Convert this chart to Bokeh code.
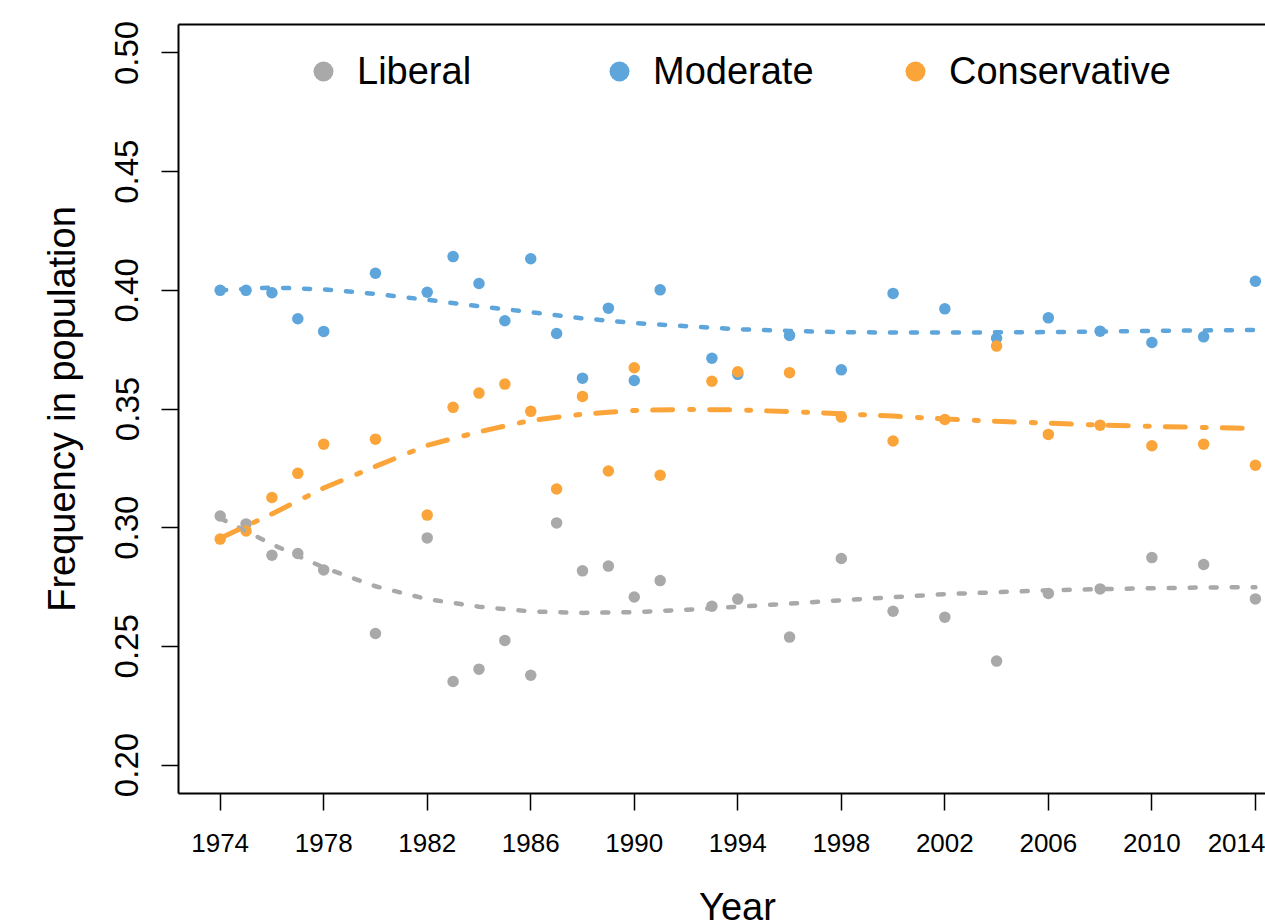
from bokeh.plotting import figure
from bokeh.models import (Range1d, FixedTicker, Legend, LegendItem, CustomJSTickFormatter,
                          LinearAxis, Label)
from bokeh.embed import file_html
from bokeh.resources import INLINE

years = [1974, 1975, 1976, 1977, 1978, 1980, 1982, 1983, 1984, 1985, 1986, 1987,
         1988, 1989, 1990, 1991, 1993, 1994, 1996, 1998, 2000, 2002, 2004, 2006,
         2008, 2010, 2012, 2014]

liberal = [0.3049, 0.3016, 0.2884, 0.2891, 0.2822, 0.2554, 0.2957, 0.2352, 0.2404,
           0.2525, 0.2378, 0.3020, 0.2818, 0.2838, 0.2708, 0.2777, 0.2669, 0.2699,
           0.2539, 0.2870, 0.2648, 0.2623, 0.2438, 0.2723, 0.2742, 0.2874, 0.2845,
           0.2700]

moderate = [0.4000, 0.4000, 0.3990, 0.3880, 0.3827, 0.4072, 0.3992, 0.4142, 0.4029,
            0.3872, 0.4133, 0.3818, 0.3630, 0.3925, 0.3620, 0.4002, 0.3714, 0.3646,
            0.3810, 0.3665, 0.3987, 0.3922, 0.3798, 0.3884, 0.3828, 0.3780, 0.3804,
            0.4038]

conservative = [0.2952, 0.2986, 0.3127, 0.3229, 0.3352, 0.3373, 0.3053, 0.3507, 0.3567,
                0.3605, 0.3490, 0.3163, 0.3553, 0.3239, 0.3674, 0.3221, 0.3617, 0.3657,
                0.3653, 0.3466, 0.3365, 0.3456, 0.3765, 0.3393, 0.3432, 0.3345, 0.3352,
                0.3263]

# smoothed trend curves
trend_years = [1974, 1976, 1978, 1980, 1982, 1984, 1986, 1988, 1990, 1992, 1994,
               1996, 1998, 2000, 2002, 2004, 2006, 2008, 2010, 2012, 2014]
liberal_trend = [0.3040, 0.2930, 0.2832, 0.2753, 0.2699, 0.2667, 0.2647, 0.2641,
                 0.2644, 0.2654, 0.2667, 0.2680, 0.2694, 0.2707, 0.2720, 0.2728,
                 0.2736, 0.2741, 0.2745, 0.2748, 0.2749]
moderate_trend = [0.4000, 0.4012, 0.4004, 0.3985, 0.3960, 0.3933, 0.3908, 0.3882,
                  0.3862, 0.3849, 0.3836, 0.3829, 0.3824, 0.3822, 0.3822, 0.3823,
                  0.3824, 0.3826, 0.3829, 0.3831, 0.3833]
conservative_trend = [0.2955, 0.3058, 0.3167, 0.3258, 0.3347, 0.3404, 0.3452, 0.3478,
                      0.3494, 0.3498, 0.3496, 0.3489, 0.3480, 0.3470, 0.3458, 0.3448,
                      0.3440, 0.3432, 0.3427, 0.3422, 0.3418]

x_ticks = [1974, 1978, 1982, 1986, 1990, 1994, 1998, 2002, 2006, 2010, 2014]
y_ticks = [0.20, 0.25, 0.30, 0.35, 0.40, 0.45, 0.50]
series_labels = ["Liberal", "Moderate", "Conservative"]
x_title = "Year"
y_title = "Frequency in population"

GRAY = "#A9A9A9"
BLUE = "#5DA5DA"
ORANGE = "#FAA43A"
FONT = "Liberation Sans"

p = figure(width=1265, height=923, output_backend="svg", toolbar_location=None,
           x_range=Range1d(1972.39, 2014.39), y_range=Range1d(0.188, 0.512),
           min_border_left=178, min_border_top=24, min_border_bottom=130,
           min_border_right=0)
p.xgrid.visible = False
p.ygrid.visible = False
p.outline_line_color = None
p.background_fill_color = "white"
p.border_fill_color = "white"

xa = p.below[0]
ya = p.left[0]

r_lib = p.scatter(years, liberal, size=11.5, color=GRAY, line_color=None)
r_mod = p.scatter(years, moderate, size=11.5, color=BLUE, line_color=None)
r_con = p.scatter(years, conservative, size=11.5, color=ORANGE, line_color=None)

p.line(trend_years, liberal_trend, line_color=GRAY, line_width=4.5,
       line_dash="6 15", line_cap="round")
p.line(trend_years, moderate_trend, line_color=BLUE, line_width=4.5,
       line_dash="6 15", line_cap="round")
p.line(trend_years, conservative_trend, line_color=ORANGE, line_width=5,
       line_dash="20 17 4 16", line_cap="round")

# top border line of the box (box is cut off on the right)
top = LinearAxis(ticker=FixedTicker(ticks=[]), major_label_text_font_size="0px",
                 major_tick_out=0, major_tick_in=0, minor_tick_out=0, minor_tick_in=0,
                 major_label_standoff=0,
                 axis_line_color="black", axis_line_width=2)
p.add_layout(top, "above")

# axes
xa.ticker = FixedTicker(ticks=x_ticks)
xa.major_tick_out = 17
xa.major_tick_in = 0
xa.minor_tick_out = 0
xa.minor_tick_in = 0
xa.major_label_standoff = 23
xa.axis_line_color = "black"
xa.axis_line_width = 2
xa.major_tick_line_width = 1.5
xa.major_label_text_font = FONT
xa.major_label_text_font_size = "26px"
xa.major_label_text_color = "black"

ya.ticker = FixedTicker(ticks=y_ticks)
ya.formatter = CustomJSTickFormatter(code="return tick.toFixed(2);")
ya.axis_label = y_title
ya.major_tick_out = 17
ya.major_tick_in = 0
ya.minor_tick_out = 0
ya.minor_tick_in = 0
ya.major_label_orientation = "vertical"
ya.major_label_standoff = 23
ya.axis_label_standoff = 30
ya.axis_line_color = "black"
ya.axis_line_width = 2
ya.major_tick_line_width = 1.5
ya.major_label_text_font = FONT
ya.major_label_text_font_size = "33px"
ya.major_label_text_color = "black"
ya.axis_label_text_font = FONT
ya.axis_label_text_font_size = "38px"
ya.axis_label_text_font_style = "normal"
ya.axis_label_text_color = "black"

# x-axis title, centred on the full (uncropped) box and partly cut by the page edge
p.add_layout(Label(x=737, y=906, x_units="canvas", y_units="canvas", text=x_title,
                   text_font=FONT, text_font_size="38px", text_color="black",
                   text_align="center", text_baseline="alphabetic"), "below")

legend = Legend(
    items=[LegendItem(label=series_labels[0], renderers=[r_lib]),
           LegendItem(label=series_labels[1], renderers=[r_mod]),
           LegendItem(label=series_labels[2], renderers=[r_con])],
    orientation="horizontal",
    location=(120, 697),
    glyph_width=50, glyph_height=50,
    label_standoff=9, label_width=237, spacing=0,
    padding=0, margin=0,
    border_line_color=None, background_fill_alpha=0,
    label_text_font=FONT, label_text_font_size="38px", label_text_color="black",
)
p.add_layout(legend, "center")

open("out.html", "w").write(file_html(p, INLINE))
